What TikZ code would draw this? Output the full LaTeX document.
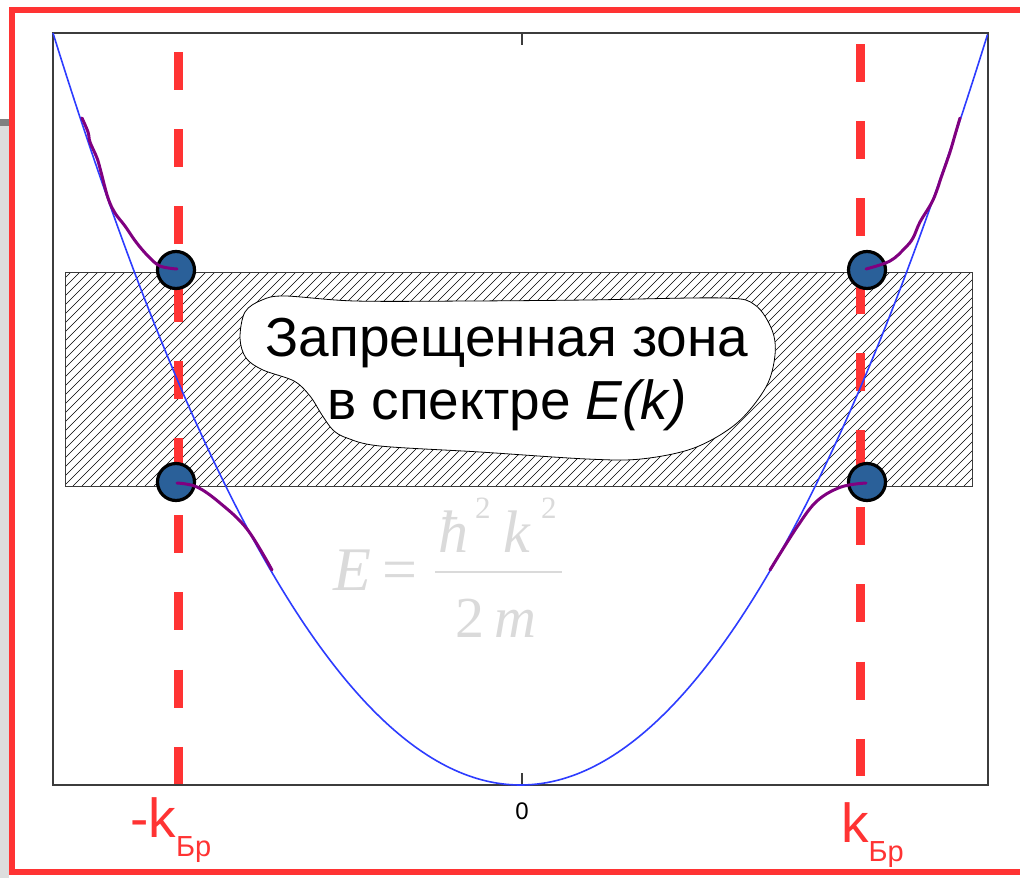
\documentclass[tikz,border=0pt]{standalone}
\usepackage{fontspec}
\setmainfont{Liberation Sans}
\newfontfamily\formfont{Liberation Serif}
\definecolor{frred}{RGB}{255,51,51}
\definecolor{dotblue}{RGB}{42,96,153}
\definecolor{curvepurple}{RGB}{128,0,128}
\definecolor{parblue}{RGB}{45,60,255}
\definecolor{axgray}{RGB}{60,60,60}
\definecolor{formgray}{RGB}{218,218,218}
\definecolor{bardark}{RGB}{128,128,128}
\definecolor{barlight}{RGB}{221,221,221}
\tikzset{
  redframe/.style={draw=frred, line width=6pt},
  axisbox/.style={draw=axgray, line width=2pt},
  hatchline/.style={draw=black, line width=0.6pt},
  blob/.style={draw=black, line width=0.8pt, fill=white},
  kline/.style={draw=frred, line width=9pt, dash pattern=on 38pt off 39.2pt},
  parabola/.style={draw=parblue, line width=1.6pt},
  wiggle/.style={draw=curvepurple, line width=3pt, line cap=round},
  edot/.style={circle, draw=black, line width=3.2pt, fill=dotblue, minimum size=37pt, inner sep=0pt},
  maintext/.style={font=\fontsize{55}{64}\selectfont, inner sep=0pt, anchor=base},
  klabel/.style={text=frred, inner sep=0pt, anchor=base west},
  formula/.style={text=formgray, inner sep=0pt, anchor=base west},
}
\begin{document}
\begin{tikzpicture}[x=1pt,y=-1pt]
\useasboundingbox (0,0) rectangle (1020,878);
\fill[white] (0,0) rectangle (1020,878);
% gray bar at left
\fill[barlight] (0,126) rectangle (9,878);
\fill[bardark] (0,119) rectangle (9,126);
% red frame
\draw[redframe] (11.7,9.5) rectangle (1040,872);
% axes box
\draw[axisbox] (53,33) rectangle (988,785);
\draw[axgray, line width=1.2pt] (522,785) -- (522,773);
\draw[axgray, line width=1.2pt] (522,33) -- (522,45);
\node[inner sep=0pt, anchor=base, font=\fontsize{24}{24}\selectfont] (zero) at (522,819) {0};
% hatched band
\begin{scope}
  \clip (65,272) rectangle (972,486);
  \foreach \i in {0,...,128} {
    \draw[hatchline] ({-152+9*\i},486) -- ({62+9*\i},272);
  }
\end{scope}
\draw[draw=axgray, line width=0.9pt] (65,272) rectangle (972,486);
% blob
\draw[blob] plot[smooth cycle, tension=0.55] coordinates {
  (240,338) (245,312) (262,300) (285,296) (355,301) (470,301) (587,300) (723,298) (755,305)
  (772,330) (775,355) (766,387) (737,423) (694,448) (641,459) (587,459)
  (480,452) (380,446) (347,438) (333,430) (322,415) (310,396) (294,381) (263,370) (246,358)};
\node[maintext] (t1) at (507,356) {Запрещенная зона};
\node[maintext] (t2) at (507,419) {в спектре \textit{E(k)}};
% formula
\node[formula, font=\fontsize{62}{62}\selectfont\formfont\itshape] (fE) at (333,590) {E};
\node[formula, font=\fontsize{62}{62}\selectfont\formfont] (feq) at (382,590) {=};
\node[formula, font=\fontsize{60}{60}\selectfont\formfont\itshape] (fh) at (438,552) {ħ};
\node[formula, font=\fontsize{31}{31}\selectfont\formfont] (fs1) at (475,518) {2};
\node[formula, font=\fontsize{60}{60}\selectfont\formfont\itshape] (fk) at (503,552) {k};
\node[formula, font=\fontsize{31}{31}\selectfont\formfont] (fs2) at (541,518) {2};
\node[formula, font=\fontsize{58}{58}\selectfont\formfont] (f2) at (455,637) {2};
\node[formula, font=\fontsize{58}{58}\selectfont\formfont\itshape] (fm) at (494,637) {m};
\draw[formgray, line width=2.2pt] (435,572) -- (562,572);
% dashed k lines
\coordinate (kLtop) at (178,52);
\coordinate (kLbot) at (178,784);
\coordinate (kRtop) at (860,44);
\coordinate (kRbot) at (860,776);
\draw[kline] (kLtop) -- (kLbot);
\draw[kline] (kRtop) -- (kRbot);
% parabola
\draw[parabola, domain=-1:1, samples=201] plot ({520.5+467.5*\x},{785-752*\x*\x});
% electron dots
\node[edot] (d1) at (176,270) {};
\node[edot] (d2) at (176,482) {};
\node[edot] (d3) at (867,270) {};
\node[edot] (d4) at (867,482) {};
% purple wiggles
\draw[wiggle] plot[smooth, tension=0.6] coordinates {
  (82,118) (88,132) (90,142) (97,158) (101,172) (108,198) (115,213) (125,226)
  (136,242) (148,256) (160,266) (177,269)};
\draw[wiggle] plot[smooth, tension=0.6] coordinates {
  (177,483) (197,487) (220,503) (247,529) (272,570)};
\draw[wiggle] plot[smooth, tension=0.6] coordinates {
  (866,269) (890,261) (905,248) (913,238) (920,222) (933,200) (942,175) (950,152) (955,135) (960,118)};
\draw[wiggle] plot[smooth, tension=0.6] coordinates {
  (866,483) (841,487) (817,501) (797,527) (770,570)};
% labels
\node[klabel, font=\fontsize{55}{55}\selectfont] (kLlab) at (130,837) {-k\raisebox{-19pt}{\fontsize{29}{29}\selectfont Бр}};
\node[klabel, font=\fontsize{55}{55}\selectfont] (kRlab) at (841,842) {k\raisebox{-19pt}{\fontsize{29}{29}\selectfont Бр}};
\end{tikzpicture}
\end{document}
